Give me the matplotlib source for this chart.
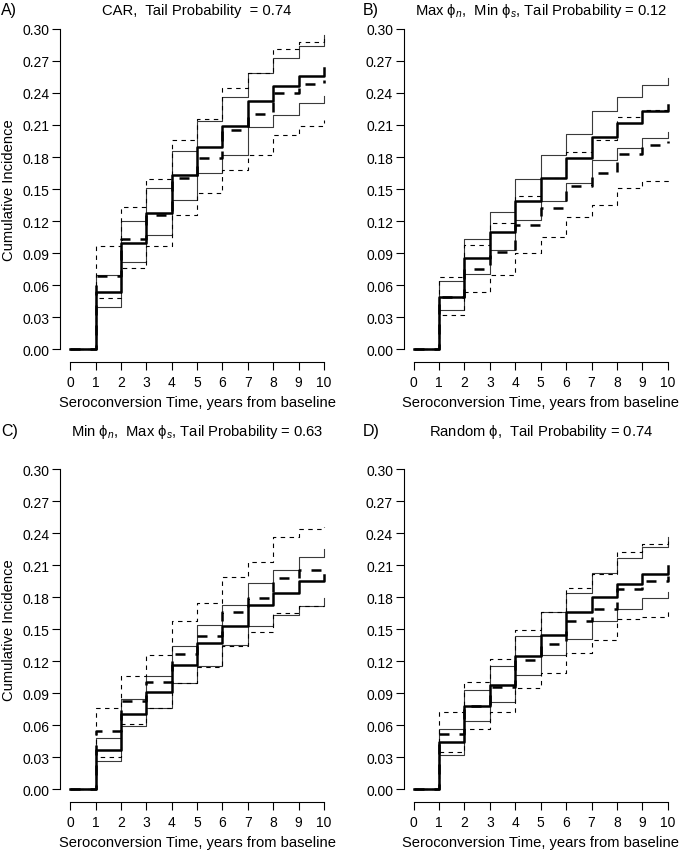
import numpy as np
import matplotlib
matplotlib.use("Agg")
import matplotlib.pyplot as plt

plt.rcParams['font.family'] = ['Liberation Sans', 'DejaVu Sans']
plt.rcParams['mathtext.fontset'] = 'custom'
plt.rcParams['mathtext.rm'] = 'Liberation Sans'
plt.rcParams['mathtext.it'] = 'Liberation Sans:italic'

years = np.arange(0, 11)

# panel A: CAR
a_est = [0, 0.054, 0.100, 0.128, 0.163, 0.189, 0.209, 0.232, 0.246, 0.256, 0.263]
a_hi = [0, 0.070, 0.120, 0.151, 0.186, 0.214, 0.236, 0.259, 0.273, 0.284, 0.294]
a_lo = [0, 0.040, 0.082, 0.107, 0.140, 0.165, 0.182, 0.208, 0.219, 0.231, 0.237]
a_est2 = [0, 0.069, 0.103, 0.126, 0.160, 0.179, 0.205, 0.220, 0.240, 0.248, 0.252]
a_hi2 = [0, 0.097, 0.133, 0.159, 0.196, 0.216, 0.245, 0.259, 0.281, 0.288, 0.294]
a_lo2 = [0, 0.048, 0.076, 0.097, 0.126, 0.146, 0.168, 0.182, 0.201, 0.209, 0.215]

# panel B: max phi_n, min phi_s
b_est = [0, 0.049, 0.086, 0.110, 0.139, 0.160, 0.179, 0.199, 0.212, 0.223, 0.229]
b_hi = [0, 0.064, 0.103, 0.129, 0.159, 0.182, 0.202, 0.223, 0.236, 0.247, 0.254]
b_lo = [0, 0.037, 0.071, 0.093, 0.121, 0.139, 0.156, 0.177, 0.188, 0.198, 0.203]
b_est2 = [0, 0.049, 0.075, 0.091, 0.116, 0.132, 0.153, 0.165, 0.183, 0.191, 0.195]
b_hi2 = [0, 0.068, 0.098, 0.118, 0.144, 0.160, 0.185, 0.196, 0.217, 0.224, 0.229]
b_lo2 = [0, 0.032, 0.054, 0.070, 0.090, 0.105, 0.124, 0.135, 0.151, 0.158, 0.159]

# panel C: min phi_n, max phi_s
c_est = [0, 0.037, 0.071, 0.091, 0.117, 0.137, 0.153, 0.173, 0.184, 0.195, 0.201]
c_hi = [0, 0.048, 0.085, 0.106, 0.134, 0.154, 0.173, 0.193, 0.205, 0.218, 0.225]
c_lo = [0, 0.027, 0.059, 0.076, 0.100, 0.116, 0.135, 0.153, 0.163, 0.172, 0.179]
c_est2 = [0, 0.055, 0.083, 0.101, 0.127, 0.144, 0.166, 0.179, 0.198, 0.205, 0.211]
c_hi2 = [0, 0.076, 0.106, 0.126, 0.158, 0.175, 0.199, 0.213, 0.236, 0.244, 0.246]
c_lo2 = [0, 0.030, 0.061, 0.076, 0.100, 0.115, 0.134, 0.147, 0.165, 0.172, 0.172]

# panel D: random phi
d_est = [0, 0.044, 0.078, 0.098, 0.125, 0.145, 0.166, 0.180, 0.192, 0.202, 0.209]
d_hi = [0, 0.057, 0.093, 0.116, 0.144, 0.166, 0.184, 0.203, 0.217, 0.227, 0.236]
d_lo = [0, 0.032, 0.064, 0.082, 0.107, 0.126, 0.141, 0.158, 0.169, 0.179, 0.185]
d_est2 = [0, 0.052, 0.078, 0.096, 0.121, 0.136, 0.158, 0.169, 0.188, 0.195, 0.200]
d_hi2 = [0, 0.073, 0.101, 0.122, 0.149, 0.166, 0.189, 0.202, 0.222, 0.230, 0.233]
d_lo2 = [0, 0.035, 0.057, 0.073, 0.095, 0.109, 0.128, 0.140, 0.160, 0.161, 0.167]

titles = [r'CAR,  Tail Probability  = 0.74',
          r'Max $\mathrm{\phi}_n$,  Min $\mathrm{\phi}_s$, Tail Probability = 0.12',
          r'Min $\mathrm{\phi}_n$,  Max $\mathrm{\phi}_s$, Tail Probability = 0.63',
          r'Random $\mathrm{\phi}$,  Tail Probability = 0.74']
letters = ['A)', 'B)', 'C)', 'D)']
panels = [(a_est, a_hi, a_lo, a_est2, a_hi2, a_lo2),
          (b_est, b_hi, b_lo, b_est2, b_hi2, b_lo2),
          (c_est, c_hi, c_lo, c_est2, c_hi2, c_lo2),
          (d_est, d_hi, d_lo, d_est2, d_hi2, d_lo2)]

W, H = 682, 853
fig = plt.figure(figsize=(W / 100, H / 100), dpi=100)

# plot regions in pixels: left, top, right, bottom
boxes = [(60, 16.9, 334.2, 363.3), (403.5, 16.9, 677.9, 363.3),
         (60, 457.2, 334.2, 803.3), (403.5, 457.2, 677.9, 803.3)]
title_y = [11, 11, 432, 432]
letter_x = [1, 363, 1, 363]

for i, (box, data) in enumerate(zip(boxes, panels)):
    l, t, r, b = box
    ax = fig.add_axes([l / W, 1 - b / H, (r - l) / W, (b - t) / H])
    est, hi, lo, est2, hi2, lo2 = data
    ax.step(years, hi, where='post', color='#3a3a3a', lw=0.8)
    ax.step(years, lo, where='post', color='#3a3a3a', lw=0.8)
    ax.step(years, hi2, where='post', color='black', lw=0.8, dashes=(4, 4))
    ax.step(years, lo2, where='post', color='black', lw=0.8, dashes=(4, 4))
    ax.step(years, est2, where='post', color='black', lw=1.8, dashes=(4, 4))
    ax.step(years, est, where='post', color='black', lw=1.8)

    ax.set_xlim(-0.4, 10.4)
    ax.set_ylim(-0.012, 0.312)
    ax.set_xticks(range(0, 11))
    ax.set_yticks(np.arange(0, 0.31, 0.03))
    ax.set_yticklabels(['%.2f' % v for v in np.arange(0, 0.31, 0.03)])
    for s in ['top', 'right']:
        ax.spines[s].set_visible(False)
    ax.spines['left'].set_bounds(0, 0.30)
    ax.spines['bottom'].set_bounds(0, 10)
    for s in ['left', 'bottom']:
        ax.spines[s].set_linewidth(0.8)
    ax.tick_params(direction='out', length=5.5, width=0.8, labelsize=10)
    ax.tick_params(axis='x', pad=4)
    ax.tick_params(axis='y', pad=2)
    ax.set_xlabel('Seroconversion Time, years from baseline', fontsize=10.6, labelpad=4)
    if i % 2 == 0:
        ax.set_ylabel('Cumulative Incidence', fontsize=10.6, labelpad=5)

    cx = (l + r) / 2
    fig.text(cx / W, 1 - title_y[i] / H, titles[i], ha='center', va='center', fontsize=10.6)
    fig.text(letter_x[i] / W, 1 - title_y[i] / H, letters[i], ha='left', va='center', fontsize=11.5)

fig.savefig('out.png', dpi=100)
